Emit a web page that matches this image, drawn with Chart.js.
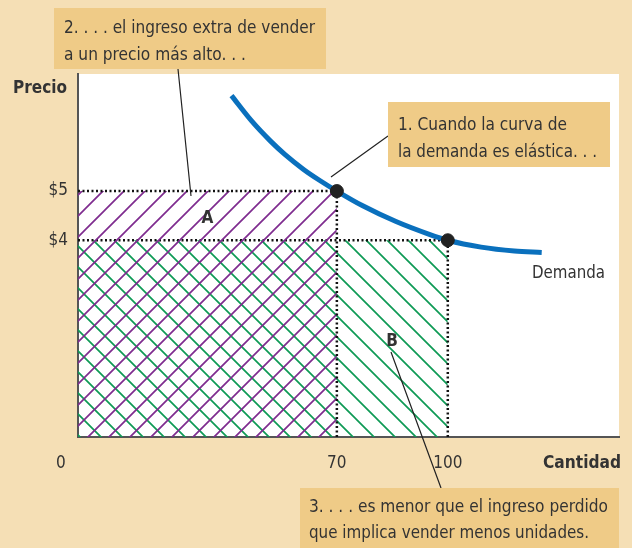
<!DOCTYPE html>
<html>
<head>
<meta charset="utf-8">
<script src="https://cdn.jsdelivr.net/npm/chart.js@4"></script>
<style>
  body { margin: 0; background: #f5dfb5; }
  canvas { display: block; }
</style>
</head>
<body>
<canvas id="chart" width="632" height="548"></canvas>
<script>
// datos
const demandaCantidad = [41.5, 47, 52, 56, 61, 65.5, 70, 77, 86, 95, 100, 109, 118, 125.4];
const demandaPrecio   = [6.94, 6.42, 6.02, 5.74, 5.44, 5.21, 5.0, 4.70, 4.38, 4.12, 4.0, 3.86, 3.78, 3.75];
const puntosCantidad  = [70, 100];
const puntosPrecio    = [5, 4];
const ticksCantidad   = [70, 100];
const ticksPrecio     = [4, 5];

const BG = '#f5dfb5';
const BOX = '#efcb87';
const TXT = '#333';
const FONT = "'Liberation Sans Narrow', 'DejaVu Sans Condensed', Roboto, sans-serif";

function makeHatch(color, dir) {
    const s = 21;
    const c = document.createElement('canvas');
    c.width = s; c.height = s;
    const g = c.getContext('2d');
    g.strokeStyle = color;
    g.lineWidth = 1.7;
    g.beginPath();
    if (dir === '/') {
        g.moveTo(0, s); g.lineTo(s, 0);
        g.moveTo(-2, 2); g.lineTo(2, -2);
        g.moveTo(s - 2, s + 2); g.lineTo(s + 2, s - 2);
    } else {
        g.moveTo(0, 0); g.lineTo(s, s);
        g.moveTo(-2, s - 2); g.lineTo(2, s + 2);
        g.moveTo(s - 2, -2); g.lineTo(s + 2, 2);
    }
    g.stroke();
    return g.createPattern(c, 'repeat');
}

const ctx = document.getElementById('chart').getContext('2d');
const purpura = makeHatch('#7f2c8f', '/');
const verde = makeHatch('#0e9a55', '\\');

// texto ajustado al ancho del original
function texto(c, str, x, y, w, bold) {
    c.font = (bold ? 'bold ' : '') + '17px ' + FONT;
    const m = c.measureText(str).width;
    c.save();
    c.translate(x, y);
    if (w) c.scale(w / m, 1);
    c.fillText(str, 0, 0);
    c.restore();
}

const fondo = {
    id: 'fondo',
    beforeDraw(chart) {
        const c = chart.ctx, a = chart.chartArea;
        c.save();
        c.fillStyle = BG;
        c.fillRect(0, 0, chart.width, chart.height);
        c.fillStyle = '#fff';
        c.fillRect(a.left, a.top, a.right - a.left, a.bottom - a.top);
        c.restore();
    }
};

const notas = {
    id: 'notas',
    afterDraw(chart) {
        const c = chart.ctx;
        const xs = chart.scales.x, ys = chart.scales.y;
        c.save();
        // lineas guia
        c.strokeStyle = '#222';
        c.lineWidth = 1.2;
        c.beginPath();
        c.moveTo(178, 69); c.lineTo(191, 196);
        c.moveTo(388, 136); c.lineTo(331, 177);
        c.moveTo(391, 352); c.lineTo(441, 488);
        c.stroke();
        // cajas
        c.fillStyle = BOX;
        c.fillRect(54, 8, 272, 61);
        c.fillRect(388, 102, 222, 65);
        c.fillRect(300, 488, 319, 60);

        c.fillStyle = TXT;
        c.textBaseline = 'alphabetic';
        texto(c, '2. . . . el ingreso extra de vender', 64, 33, 251);
        texto(c, 'a un precio más alto. . .', 64, 60, 182);
        texto(c, '1. Cuando la curva de', 398, 130, 169);
        texto(c, 'la demanda es elástica. . .', 398, 157, 199);
        texto(c, '3. . . . es menor que el ingreso perdido', 309, 512, 299);
        texto(c, 'que implica vender menos unidades.', 309, 538, 280);

        texto(c, 'Precio', 13, 93, 54, true);
        texto(c, 'Cantidad', 543, 468, 78, true);
        texto(c, 'Demanda', 532, 278, 73);
        texto(c, '0', xs.getPixelForValue(0) - 22, 468);

        texto(c, 'A', xs.getPixelForValue(35) - 6, ys.getPixelForValue(4.5) + 7, null, true);
        texto(c, 'B', xs.getPixelForValue(85) - 6, ys.getPixelForValue(2) + 7, null, true);
        c.restore();
    }
};

const punteado = { borderColor: '#111', borderWidth: 2.5, borderDash: [2, 2.5], pointRadius: 0, showLine: true };

new Chart(ctx, {
    type: 'scatter',
    data: {
        datasets: [
            {
                data: puntosCantidad.map((q, i) => ({ x: q, y: puntosPrecio[i] })),
                backgroundColor: '#222', borderColor: '#222',
                pointRadius: 6.5, showLine: false
            },
            {
                data: demandaCantidad.map((q, i) => ({ x: q, y: demandaPrecio[i] })),
                borderColor: '#0a70bd', borderWidth: 5, pointRadius: 0,
                showLine: true, cubicInterpolationMode: 'monotone', clip: false
            },
            { ...punteado, data: [{ x: puntosCantidad[0], y: 0 }, { x: puntosCantidad[0], y: puntosPrecio[0] }] },
            { ...punteado, data: [{ x: puntosCantidad[1], y: 0 }, { x: puntosCantidad[1], y: puntosPrecio[1] }] },
            // area A + parte comun (morado)
            { ...punteado, data: [{ x: 0, y: puntosPrecio[0] }, { x: puntosCantidad[0], y: puntosPrecio[0] }],
              fill: 'origin', backgroundColor: purpura },
            // area comun + B (verde)
            { ...punteado, data: [{ x: 0, y: puntosPrecio[1] }, { x: puntosCantidad[1], y: puntosPrecio[1] }],
              fill: 'origin', backgroundColor: verde }
        ]
    },
    options: {
        responsive: false,
        devicePixelRatio: 1,
        animation: false,
        layout: { padding: { top: 74, right: 13, left: 0, bottom: 0 } },
        plugins: { legend: { display: false }, tooltip: { enabled: false } },
        scales: {
            x: {
                type: 'linear', min: 0, max: 146.3,
                afterBuildTicks: s => { s.ticks = ticksCantidad.map(v => ({ value: v })); },
                afterFit: s => { s.height = 111; },
                grid: { display: false, drawTicks: false },
                border: { color: '#555', width: 2 },
                ticks: { color: TXT, padding: 16, font: { family: FONT, size: 17 } }
            },
            y: {
                type: 'linear', min: 0, max: 7.38,
                afterBuildTicks: s => { s.ticks = ticksPrecio.map(v => ({ value: v })); },
                afterFit: s => { s.width = 78; },
                grid: { display: false, drawTicks: false },
                border: { color: '#555', width: 2 },
                ticks: { color: TXT, padding: 10, font: { family: FONT, size: 17 }, callback: v => '$' + v }
            }
        }
    },
    plugins: [fondo, notas]
});
</script>
</body>
</html>
